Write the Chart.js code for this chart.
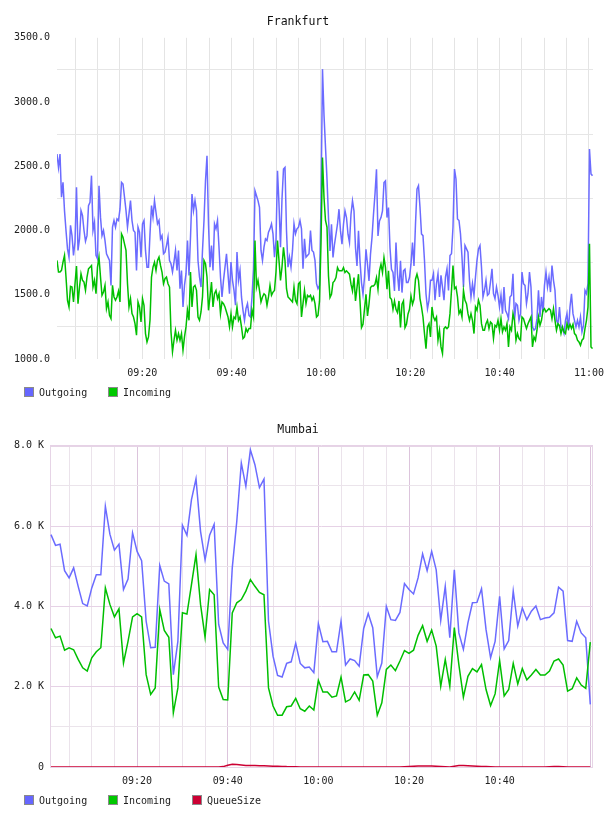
<!DOCTYPE html>
<html>
<head>
<meta charset="utf-8">
<script src="https://cdn.jsdelivr.net/npm/chart.js@4"></script>
<style>
html,body{margin:0;padding:0;background:#fff;}
.box{position:relative;width:608px;height:408px;}
.legend{position:absolute;left:24px;top:386px;height:12px;display:flex;align-items:center;
  font:10px 'DejaVu Sans Mono',monospace;color:#222;white-space:nowrap;}
.item{display:flex;align-items:center;margin-right:20.8px;}
.sw{width:10px;height:10px;box-sizing:border-box;border:1px solid #8a8a8a;margin-right:5px;}
</style>
</head>
<body>
<div class="box"><canvas id="fra"></canvas><div class="legend" id="fraLegend"></div></div>
<div class="box"><canvas id="bom"></canvas><div class="legend" id="bomLegend"></div></div>
<script>
// ---- data ----
const fraTimeLabels = ['09:20','09:40','10:00','10:20','10:40','11:00'];
const bomTimeLabels = ['09:20','09:40','10:00','10:20','10:40'];
const gridEveryMin = 5, gridLastMin = '11:00';

// Frankfurt: ~20 s samples
const fraFirst = '09:00:54', fraLast = '11:00:47';
const fraRange = ['09:00:54', '11:00:54'];
const fraOutgoing = [
  2595,2490,2595,2260,2375,2155,2000,1857,1793,2040,
  1960,1806,1910,2336,1845,1935,2155,2117,2000,1917,
  1960,2194,2220,2427,2000,2065,1806,1780,2349,2104,
  1960,2000,1922,1819,1793,1767,1573,2026,2078,2026,
  2091,2078,2168,2375,2362,2260,2155,2026,2130,2233,
  2078,2000,1987,1689,2026,1987,1793,2052,2078,1845,
  1715,
  1715,1974,2194,2104,2233,2142,2052,2078,1935,1960,
  1819,1832,1883,1948,1767,1741,1677,1754,1845,1689,
  1845,1547,1689,1405,1573,1664,1922,1651,1948,2284,
  2155,2233,2155,1767,1638,1560,1845,2078,2388,2582,
  2052,1715,1883,1689,2052,2013,2078,1870,1638,1483,
  1612,1715,1819,1664,1508,1754,1612,1534,1418,1832,
  1612,1689,1483,1379,1301,1392,1431,1340,1327,1483,
  1702,2310,2271,2233,2181,1845,1767,1870,1935,1922,
  1987,2013,2052,1974,1793,1922,2465,2207,1870,2246,
  2478,2491,2000,1715,1793,1715,1845,2052,1974,2013,
  2026,2078,2013,1702,1935,1793,1806,1819,2000,1845,
  1832,1767,1586,1547,1573,2200,3256,2900,2650,2400,
  2101,1841,2049,1790,1893,1971,2049,2166,1997,1893,
  2049,2153,2101,1971,1906,2127,2231,2153,1867,1725,
  1997,1764,1595,1504,1634,1854,1738,1608,1816,1945,
  2127,2283,2477,1958,2075,2101,2153,2373,2386,2101,
  2179,1867,1699,1673,1530,1906,1660,1530,1764,1517,
  1686,1699,1595,1595,1634,1738,1906,1725,2049,2321,
  2349,2181,1974,1960,1767,1508,1392,1457,1612,1612,
  1664,1457,1586,1664,1483,1651,1560,1457,1638,1702,
  1534,1806,1819,2026,2478,2401,2090,2078,1974,1793,
  1560,1883,1857,1832,1612,1483,1586,1496,1638,1767,
  1857,1883,1715,1483,1534,1612,1496,1508,1599,1702,
  1508,1470,1560,1496,1405,1496,1353,1560,1379,1353,
  1314,1483,1496,1664,1301,1431,1418,1301,1353,1677,
  1586,1573,1431,1508,1677,1560,1250,1224,1237,1314,
  1534,1327,1483,1366,1573,1677,1560,1638,1521,1728,
  1612,1534,1301,1275,1405,1250,1237,1198,1301,1353,
  1224,1405,1508,1353,1301,1250,1301,1250,1327,1211,
  1262,1534,1508,1586,2634,2440,2427
];
const fraIncoming = [
  1767,1677,1677,1690,1754,1806,1638,1457,1405,1565,
  1560,1444,1586,1723,1431,1560,1664,1612,1599,1534,
  1638,1702,1715,1728,1560,1612,1508,1715,1793,1638,
  1496,1521,1573,1392,1444,1340,1314,1573,1483,1457,
  1483,1528,1444,1974,1948,1896,1845,1586,1405,1470,
  1353,1327,1275,1185,1444,1405,1288,1470,1418,1198,
  1133,
  1172,1301,1638,1715,1754,1689,1767,1793,1728,1677,
  1586,1625,1638,1586,1560,1211,1056,1146,1224,1146,
  1198,1146,1198,1069,1172,1250,1379,1301,1677,1405,
  1560,1573,1534,1327,1301,1366,1483,1767,1741,1638,
  1379,1483,1599,1405,1508,1534,1470,1508,1353,1444,
  1431,1405,1366,1327,1250,1353,1250,1327,1314,1405,
  1301,1327,1250,1159,1172,1237,1211,1237,1237,1379,
  1327,1922,1560,1612,1534,1444,1483,1508,1496,1418,
  1483,1573,1496,1521,1534,1677,1922,1767,1612,1715,
  1870,1767,1547,1483,1470,1457,1444,1560,1457,1431,
  1586,1599,1327,1431,1534,1431,1496,1483,1496,1457,
  1483,1431,1327,1340,1450,1900,2569,2259,2078,2026,
  1647,1478,1504,1595,1608,1634,1712,1686,1686,1686,
  1712,1673,1686,1673,1660,1582,1530,1634,1452,1556,
  1660,1452,1245,1271,1387,1504,1336,1426,1556,1569,
  1569,1582,1634,1543,1686,1738,1673,1790,1712,1543,
  1686,1478,1465,1387,1452,1387,1361,1452,1245,1426,
  1452,1245,1271,1349,1387,1491,1426,1465,1621,1660,
  1612,1470,1405,1327,1198,1081,1250,1275,1172,1405,
  1327,1301,1327,1146,1224,1094,1043,1237,1250,1237,
  1250,1353,1534,1728,1547,1560,1483,1353,1379,1327,
  1534,1457,1431,1353,1301,1353,1301,1198,1405,1379,
  1457,1418,1275,1224,1224,1275,1301,1237,1288,1275,
  1159,1262,1250,1301,1224,1314,1211,1250,1224,1275,
  1094,1250,1224,1353,1301,1146,1198,1159,1146,1327,
  1314,1275,1237,1275,1301,1327,1094,1172,1146,1224,
  1327,1262,1301,1379,1392,1366,1379,1392,1380,1314,
  1392,1301,1224,1275,1260,1198,1250,1211,1198,1275,
  1237,1270,1237,1270,1198,1185,1146,1133,1107,1146,
  1159,1237,1301,1405,1896,1094,1081
];

// Mumbai: 1 min samples from 09:01
const bomFirst = '09:01', bomStepMin = 1;
const bomRange = ['09:00:47', '11:00:36'];
const bomOutgoing = [
  5787,5520,5550,4890,4710,4960,4500,4070,4010,4460,
  4790,4790,6490,5800,5400,5550,4420,4680,5830,5370,
  5140,3630,2970,2980,5020,4630,4560,2300,3130,6020,
  5770,6660,7180,5870,5160,5770,6040,3550,3090,2930,
  4960,6120,7570,6990,7900,7530,6960,7170,3630,2760,
  2280,2240,2580,2620,3080,2580,2470,2490,2350,3570,
  3120,3130,2870,2870,3630,2540,2690,2650,2510,3450,
  3820,3470,2250,2590,4000,3670,3650,3850,4570,4420,
  4310,4710,5310,4890,5370,4910,3650,4500,3220,4910,
  3340,2930,3590,4090,4100,4440,3420,2720,3130,4250,
  2940,3150,4380,3510,3960,3670,3880,4010,3670,3710,
  3730,3840,4480,4380,3150,3130,3630,3340,3220,1560
];
const bomIncoming = [
  3450,3220,3260,2910,2970,2920,2680,2470,2390,2720,
  2870,2970,4460,4050,3740,3940,2590,3130,3740,3820,
  3740,2300,1810,1970,3920,3400,3230,1350,1970,3840,
  3810,4540,5290,4050,3230,4420,4290,1990,1680,1670,
  3840,4090,4170,4380,4670,4500,4350,4290,1970,1520,
  1290,1290,1500,1520,1710,1450,1390,1520,1420,2160,
  1870,1870,1740,1770,2240,1620,1680,1870,1660,2290,
  2300,2140,1290,1600,2430,2540,2400,2640,2900,2830,
  2910,3280,3520,3130,3410,3010,2010,2680,2010,3470,
  2550,1740,2260,2450,2370,2550,1930,1530,1820,2650,
  1770,1930,2580,2070,2450,2170,2290,2430,2290,2290,
  2390,2640,2690,2540,1890,1950,2220,2040,1960,3110
];
const bomQueue = [
  0,0,0,0,0,0,0,0,0,0,
  0,0,0,0,0,0,0,0,0,0,
  0,0,0,0,0,0,0,0,0,0,
  0,0,0,0,0,0,0,0,10,45,
  70,60,50,40,35,35,33,30,25,20,
  18,15,10,8,5,0,0,0,0,0,
  0,0,0,0,0,0,0,0,0,0,
  0,0,0,0,0,0,0,0,5,12,
  18,22,25,25,22,18,12,5,0,20,
  40,35,30,25,20,15,10,5,0,0,
  0,0,0,0,0,0,0,0,0,0,
  8,15,12,5,0,0,0,0,0,0
];

// ---- helpers ----
const FONT = "'DejaVu Sans Mono', monospace";
const toMin = s => { const [h,m,sec=0] = s.split(':').map(Number); return (h-9)*60 + m + sec/60; };
const labelMap = list => { const o = {}; list.forEach(l => o[toMin(l)] = l); return o; };
const gridMins = [];
for (let m = gridEveryMin; m <= toMin(gridLastMin); m += gridEveryMin) gridMins.push(m);
const majorAt = labelMap(fraTimeLabels);

const fraPoints = vals => {
  const a = toMin(fraFirst), b = toMin(fraLast), st = (b-a)/(vals.length-1);
  return vals.map((v,i)=>({x:a+i*st, y:v}));
};
const bomPoints = vals => vals.map((v,i)=>({x:toMin(bomFirst)+i*bomStepMin, y:v}));

// plot frame (Mumbai only)
const framePlugin = {
  id:'frame',
  beforeDatasetsDraw(c, args, o){
    if(!o.color) return;
    const {left,top,right,bottom} = c.chartArea, g = c.ctx;
    g.save(); g.strokeStyle=o.color; g.lineWidth=1;
    g.strokeRect(Math.round(left)+0.5, Math.round(top)+0.5, Math.round(right-left)-1, Math.round(bottom-top));
    g.restore();
  }
};

function line(label, pts, color, fill, order){
  return {label, data:pts, borderColor:color, backgroundColor:fill, borderWidth:1.5,
    pointRadius:0, tension:0, fill:false, order};
}

// legend below plot, built from the datasets
function buildLegend(id, datasets){
  const el = document.getElementById(id);
  datasets.forEach(d=>{
    const it = document.createElement('div'); it.className='item';
    const sw = document.createElement('div'); sw.className='sw'; sw.style.background=d.backgroundColor;
    const tx = document.createElement('span'); tx.textContent=d.label;
    it.append(sw, tx); el.append(it);
  });
}

function makeChart(id, cfg){
  buildLegend(id+'Legend', cfg.datasets);
  const labelAt = labelMap(cfg.timeLabels);
  return new Chart(document.getElementById(id), {
    type:'line',
    data:{datasets:cfg.datasets},
    plugins:[framePlugin],
    options:{
      responsive:true, maintainAspectRatio:false, animation:false, events:[],
      devicePixelRatio:1,
      layout:{padding:{left:3, right:15, top:0, bottom:29}},
      plugins:{
        tooltip:{enabled:false},
        legend:{display:false},
        frame:{color:cfg.frame},
        title:{display:true, text:cfg.title, color:'#111',
          font:{family:FONT, size:11.5, weight:'normal'}, padding:{top:15, bottom:9}}
      },
      scales:{
        x:{type:'linear', min:cfg.xRange[0], max:cfg.xRange[1],
          afterBuildTicks: s => { s.ticks = gridMins.map(v=>({value:v})); },
          afterFit: s => { s.height = 20; s.paddingLeft = 0; s.paddingRight = 0; },
          ticks:{autoSkip:false, maxRotation:0, padding:8, color:'#222',
            font:{family:FONT, size:10}, callback: v => labelAt[v] || ''},
          grid:{drawTicks:false, color: c => cfg.xGrid(c.tick && majorAt[c.tick.value])},
          border:{display:false}},
        y:{min:cfg.yTicks[0], max:cfg.yTicks.at(-1),
          afterBuildTicks: s => { s.ticks = cfg.yTicks.map(v=>({value:v})); },
          afterFit: s => { s.width = cfg.yWidth; s.paddingTop = 0; s.paddingBottom = 0; },
          ticks:{autoSkip:false, padding:cfg.yPad, color:'#222',
            font:{family:FONT, size:10}, callback: cfg.yLabel},
          grid:{drawTicks:false, color: c => cfg.yGrid(c.tick ? c.tick.value : 0)},
          border:{display:false}}
      }
    }
  });
}

// ---- Frankfurt ----
const fraTicks = [];
for (let v = 1000; v <= 3500; v += 250) fraTicks.push(v);
makeChart('fra', {
  title:'Frankfurt',
  timeLabels:fraTimeLabels,
  xRange:fraRange.map(toMin),
  yTicks:fraTicks, yWidth:54, yPad:7,
  yLabel: v => v % 500 === 0 ? v.toFixed(1) : '',
  yGrid: v => v % 500 === 0 ? 'rgba(0,0,0,0)' : '#e6e6e6',
  xGrid: () => '#e4e4e4',
  frame:null,
  datasets:[
    line('Outgoing', fraPoints(fraOutgoing), '#6b6bff', '#6666ff', 1),
    line('Incoming', fraPoints(fraIncoming), '#00bf00', '#00c800', 0)
  ]
});

// ---- Mumbai ----
const bomTicks = [];
for (let v = 0; v <= 8000; v += 1000) bomTicks.push(v);
makeChart('bom', {
  title:'Mumbai',
  timeLabels:bomTimeLabels,
  xRange:bomRange.map(toMin),
  yTicks:bomTicks, yWidth:47, yPad:6,
  yLabel: v => v === 0 ? '0' : (v % 2000 === 0 ? (v/1000).toFixed(1) + ' K' : ''),
  yGrid: v => v % 2000 === 0 ? '#e6d2e6' : '#ebe4eb',
  xGrid: major => major ? '#dcc4dc' : '#ebe3eb',
  frame:'#e6d4e6',
  datasets:[
    line('Outgoing', bomPoints(bomOutgoing), '#6b6bff', '#6666ff', 2),
    line('Incoming', bomPoints(bomIncoming), '#00bf00', '#00c800', 1),
    line('QueueSize', bomPoints(bomQueue), '#cc0033', '#cc0033', 0)
  ]
});
</script>
</body>
</html>
